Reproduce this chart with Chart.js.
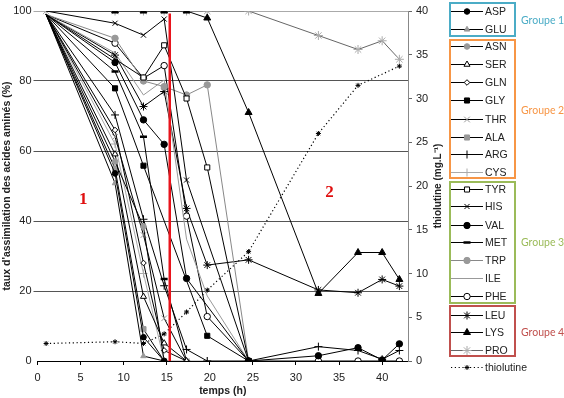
<!DOCTYPE html>
<html lang="fr">
<head>
<meta charset="UTF-8">
<title>Assimilation des acides aminés et thiolutine</title>
<script src="https://cdn.jsdelivr.net/npm/chart.js"></script>
<style>
  * { margin: 0; padding: 0; box-sizing: border-box; }
  body { width: 564px; height: 398px; background: #fff; overflow: hidden;
         font-family: "Liberation Sans", Arial, sans-serif; }
  .wrap { position: relative; width: 564px; height: 398px; }
  #chart { position: absolute; left: 0; top: 0; }
  .box { position: absolute; left: 449px; width: 67px; border: 2px solid; }
  .row { position: absolute; left: 451px; height: 14px; display: flex; align-items: center;
         font-size: 10.5px; color: #222; white-space: nowrap; }
  .row canvas { display: block; margin-right: 2px; }
  .grp { position: absolute; left: 521px; font-family: Lato, sans-serif; font-size: 10.5px;
         line-height: 14px; white-space: nowrap; }
</style>
</head>
<body>
<div class="wrap">
  <canvas id="chart" width="564" height="398"></canvas>
  <div id="legend"></div>
</div>

<script>
  // temps de prélèvement (h)
  const temps = [1, 9, 12.3, 14.7, 17.3, 19.7, 24.5, 32.6, 37.2, 40, 42];

  // taux d'assimilation (%)
  const asp = [99, 53.6, 6.8, 0];
  const glu = [99, 50.8, 1.4, 0];
  const asn = [99, 57, 38.4, 0];
  const ser = [99, 59.1, 18.4, 5.1, 0];
  const gln = [99, 66, 28, 3, 0];
  const gly = [99, 77.9, 55.8, null, null, 7.2, 0];
  const thr = [99, 64, 36, 12.2, 0];
  const ala = [99, 55, 9.1, 0];
  const arg = [99, 70.3, 40.5, 21.5, 3.3, 0, 0, 4.1, 3, 0.5, 3];
  const cys = [99, 62, 25, 0, 0, 0];
  const tyr = [99, null, 81, 90.2, 75, 55.3, 0];
  const his = [100, 96.5, 93.1, 97.7, 51.7, null, 0];
  const val = [99, 85.3, 68.9, 61.9, 23.6, null, 0, 1.5, 3.8, 0.3, 4.9];
  const met = [99, 82.7, 64.1, 23.4, 0];
  const trp = [99, 92.2, 80, 78.4, 76, 78.9, 0];
  const ile = [99, 88, 76, 80.3, 34.8, 18.6, 0];
  const phe = [99, 90.8, 80.8, 84.4, 41.4, 12.7, 0, 0, 0, 0, 0];
  const leu = [99, 87.4, 72.7, 77, 43.6, 27.4, 28.9, 20.3, 19.5, 23.3, 21.4];
  const lys = [100, 100, 100, 100, 100, 98, 71, 19.3, 31, 31, 23.3];
  const pro = [100, 100, 100, 100, 100, 100, 100, 93, 89, 91.5, 86.2];

  // thiolutine (mg/L), axe de droite
  const thiolutine = [2.0, 2.2, 2.0, 3.1, 5.6, 8.1, 12.5, 26, 31.5, null, 33.7];

  const yTicks = [0, 20, 40, 60, 80, 100];
  const coupure = 15.35; // trait rouge

  // styles des séries
  const styles = {
    ASP: { pt: 'circle',   fill: '#000', stroke: '#000', r: 2.8 },
    GLU: { pt: 'triangle', fill: '#999', stroke: '#999', r: 3.2 },
    ASN: { pt: 'circle',   fill: '#999', stroke: '#999', r: 2.8 },
    SER: { pt: 'triangle', fill: '#fff', stroke: '#000', r: 3.5 },
    GLN: { pt: 'rectRot',  fill: '#fff', stroke: '#000', r: 2.8 },
    GLY: { pt: 'rect',     fill: '#000', stroke: '#000', r: 3.6 },
    THR: { pt: 'crossRot', fill: '#fff', stroke: '#999', r: 4 },
    ALA: { pt: 'rect',     fill: '#999', stroke: '#999', r: 3.6 },
    ARG: { pt: 'cross',    fill: '#000', stroke: '#000', r: 4 },
    CYS: { pt: 'cross',    fill: '#aaa', stroke: '#aaa', r: 4, line: '#aaa' },
    TYR: { pt: 'rect',     fill: '#fff', stroke: '#000', r: 3.6 },
    HIS: { pt: 'crossRot', fill: '#000', stroke: '#000', r: 3.6 },
    VAL: { pt: 'circle',   fill: '#000', stroke: '#000', r: 3.2 },
    MET: { pt: 'line',     fill: '#000', stroke: '#000', r: 3.5, bw: 2.5 },
    TRP: { pt: 'circle',   fill: '#999', stroke: '#999', r: 3.2, line: '#888' },
    ILE: { pt: false,      fill: '#999', stroke: '#999', r: 0, line: '#999' },
    PHE: { pt: 'circle',   fill: '#fff', stroke: '#000', r: 3.2 },
    LEU: { pt: 'star',     fill: '#000', stroke: '#000', r: 4 },
    LYS: { pt: 'triangle', fill: '#000', stroke: '#000', r: 4 },
    PRO: { pt: 'star',     fill: '#aaa', stroke: '#aaa', r: 4.5, line: '#666' }
  };

  const series = [
    ['ASP', asp], ['GLU', glu], ['ASN', asn], ['SER', ser], ['GLN', gln],
    ['GLY', gly], ['THR', thr], ['ALA', ala], ['ARG', arg], ['CYS', cys],
    ['TYR', tyr], ['HIS', his], ['VAL', val], ['MET', met], ['TRP', trp],
    ['ILE', ile], ['PHE', phe], ['LEU', leu], ['LYS', lys], ['PRO', pro]
  ];

  const groupes = [
    { nom: 'Groupe 1', couleur: '#4bacc6', membres: ['ASP', 'GLU'], top: 2, h: 35, ly: 13 },
    { nom: 'Groupe 2', couleur: '#f79646', membres: ['ASN', 'SER', 'GLN', 'GLY', 'THR', 'ALA', 'ARG', 'CYS'], top: 39, h: 140, ly: 103 },
    { nom: 'Groupe 3', couleur: '#9bbb59', membres: ['TYR', 'HIS', 'VAL', 'MET', 'TRP', 'ILE', 'PHE'], top: 181, h: 123, ly: 235 },
    { nom: 'Groupe 4', couleur: '#c0504d', membres: ['LEU', 'LYS', 'PRO'], top: 305, h: 52, ly: 325 }
  ];
  const rowY = {
    ASP: 11, GLU: 29, ASN: 46, SER: 64, GLN: 82, GLY: 100, THR: 118.5, ALA: 136.5, ARG: 154, CYS: 171.5,
    TYR: 188.5, HIS: 206, VAL: 224.5, MET: 242, TRP: 260, ILE: 278, PHE: 296,
    LEU: 315, LYS: 332, PRO: 350, thiolutine: 367
  };

  function toPoints(vals) {
    return vals.map((v, i) => ({ x: temps[i], y: v }));
  }

  const datasets = [{
    label: 'coupure',
    data: [{ x: coupure, y: 0 }, { x: coupure, y: 99.3 }],
    borderColor: '#e8141c',
    borderWidth: 2.5,
    pointRadius: 0,
    order: -1
  }];

  series.forEach(([nom, vals]) => {
    const s = styles[nom];
    datasets.push({
      label: nom,
      data: toPoints(vals),
      yAxisID: 'y',
      borderColor: s.line || '#000',
      borderWidth: 1,
      spanGaps: true,
      pointStyle: s.pt,
      pointRadius: ctx => (ctx.dataIndex === 0 && nom !== 'PRO') ? 0 : s.r,
      pointBackgroundColor: s.fill,
      pointBorderColor: s.stroke,
      pointBorderWidth: s.bw || 1
    });
  });

  datasets.push({
    label: 'thiolutine',
    data: toPoints(thiolutine),
    yAxisID: 'y2',
    borderColor: '#000',
    borderWidth: 1.2,
    borderDash: [1.2, 2.6],
    spanGaps: true,
    pointStyle: 'star',
    pointRadius: 2.5,
    pointBorderColor: '#000',
    pointBorderWidth: 1
  });

  // textes dans la zone du graphique : "1", "2" et titre de l'axe droit
  const annotations = {
    id: 'annotations',
    afterDatasetsDraw(chart) {
      const { ctx, scales } = chart;
      ctx.save();
      ctx.fillStyle = '#e01010';
      ctx.font = 'bold 17px "Liberation Serif", serif';
      ctx.textAlign = 'center';
      ctx.textBaseline = 'middle';
      ctx.fillText('1', scales.x.getPixelForValue(5.3), scales.y.getPixelForValue(46));
      ctx.fillText('2', scales.x.getPixelForValue(33.9), scales.y.getPixelForValue(48));
      ctx.restore();
    },
    afterDraw(chart) {
      const { ctx, chartArea } = chart;
      ctx.save();
      ctx.translate(438, (chartArea.top + chartArea.bottom) / 2);
      ctx.rotate(-Math.PI / 2);
      ctx.fillStyle = '#222';
      ctx.font = 'bold 10px "Liberation Sans", Arial, sans-serif';
      ctx.textAlign = 'center';
      ctx.textBaseline = 'middle';
      ctx.fillText('thiolutine (mg.L\u207B\u00B9)', 0, 0);
      ctx.restore();
    }
  };

  const tickFont = { family: '"Liberation Sans", Arial, sans-serif', size: 11 };
  const titleFont = { family: '"Liberation Sans", Arial, sans-serif', size: 10.5, weight: 'bold' };

  new Chart(document.getElementById('chart'), {
    type: 'line',
    data: { datasets },
    plugins: [annotations],
    options: {
      responsive: false,
      animation: false,
      devicePixelRatio: 1,
      layout: { padding: { top: 11, right: 119, left: 0, bottom: 0 } },
      plugins: { legend: { display: false }, tooltip: { enabled: false } },
      elements: { line: { tension: 0 } },
      scales: {
        x: {
          type: 'linear', min: 0, max: 43,
          afterFit: s => { s.height = 37; },
          ticks: { stepSize: 5, includeBounds: false, color: '#222', font: tickFont, padding: 6 },
          grid: { drawOnChartArea: false, drawTicks: true, tickLength: 4, color: '#000' },
          border: { color: '#000', width: 1 },
          title: { display: true, text: 'temps (h)', color: '#222', font: titleFont, padding: { top: 0, bottom: 1 } }
        },
        y: {
          position: 'left', min: 0, max: 100,
          afterFit: s => { s.width = 37.5; },
          afterBuildTicks: s => { s.ticks = yTicks.map(v => ({ value: v })); },
          ticks: { color: '#222', font: tickFont, padding: 2 },
          grid: {
            tickLength: 4,
            color: c => c.tick && c.tick.value === 0 ? 'rgba(0,0,0,0)' : (c.tick && c.tick.value === 100 ? '#aaa' : '#555'),
            lineWidth: 1
          },
          border: { display: false },
          title: { display: true, text: "taux d'assimilation des acides aminés (%)", color: '#222', font: titleFont, padding: { top: 1, bottom: 0 } }
        },
        y2: {
          position: 'right', min: 0, max: 40,
          afterFit: s => { s.width = 37; },
          ticks: { stepSize: 5, color: '#222', font: tickFont, padding: 4 },
          grid: { drawOnChartArea: false, tickLength: 4, color: '#666' },
          border: { color: '#888', width: 1 }
        }
      }
    }
  });

  // légende groupée (HTML)
  const legend = document.getElementById('legend');
  const drawPoint = Chart.helpers && Chart.helpers.drawPoint;

  function legendRow(nom, y, s, dotted) {
    const row = document.createElement('div');
    row.className = 'row';
    row.style.top = (y - 7) + 'px';
    const c = document.createElement('canvas');
    c.width = 32; c.height = 14;
    const g = c.getContext('2d');
    g.strokeStyle = dotted ? '#000' : (s.line || '#000');
    g.lineWidth = 1;
    if (dotted) g.setLineDash([1.2, 2.6]);
    g.beginPath(); g.moveTo(0, 7.5); g.lineTo(32, 7.5); g.stroke();
    g.setLineDash([]);
    if (s.pt && drawPoint) {
      g.fillStyle = s.fill;
      g.strokeStyle = s.stroke;
      g.lineWidth = s.bw || 1;
      drawPoint(g, { pointStyle: s.pt, radius: s.r, rotation: 0, borderWidth: s.bw || 1 }, 16, 7.5);
    }
    row.appendChild(c);
    const t = document.createElement('span');
    t.textContent = nom;
    row.appendChild(t);
    legend.appendChild(row);
  }

  groupes.forEach(gr => {
    const b = document.createElement('div');
    b.className = 'box';
    b.style.top = gr.top + 'px';
    b.style.height = gr.h + 'px';
    b.style.borderColor = gr.couleur;
    legend.appendChild(b);
    const l = document.createElement('div');
    l.className = 'grp';
    l.style.top = gr.ly + 'px';
    l.style.color = gr.couleur;
    l.textContent = gr.nom;
    legend.appendChild(l);
    gr.membres.forEach(nom => legendRow(nom, rowY[nom], styles[nom], false));
  });
  legendRow('thiolutine', rowY.thiolutine, { pt: 'star', fill: '#000', stroke: '#000', r: 2.5 }, true);
</script>
</body>
</html>
